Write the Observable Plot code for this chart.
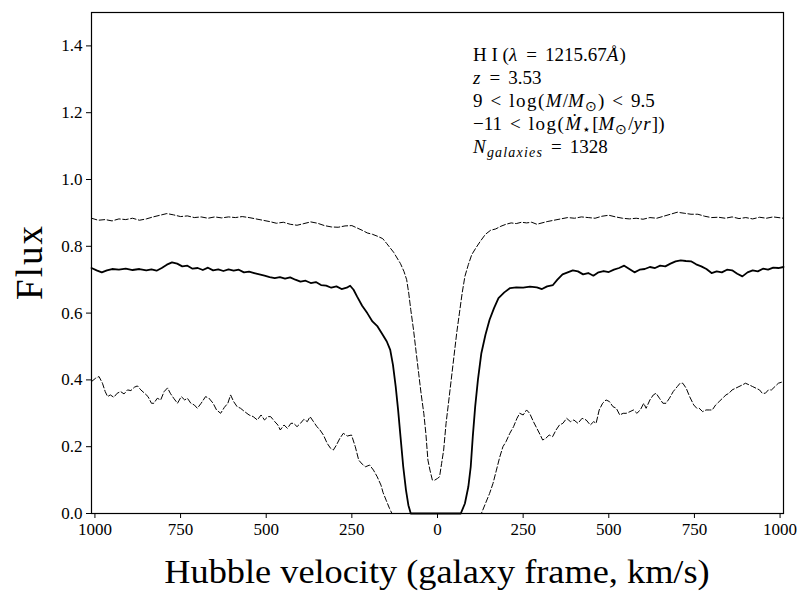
<!DOCTYPE html>
<html>
<head>
<meta charset="utf-8">
<script src="https://cdn.jsdelivr.net/npm/d3@7"></script>
<script src="https://cdn.jsdelivr.net/npm/@observablehq/plot@0.6"></script>
<style>
  body { margin: 0; background: #fff; }
  #wrap { position: relative; width: 805px; height: 591px; font-family: "Liberation Serif", serif; color: #000; }
  #chart svg text { font-family: "Liberation Serif", serif; }
  #ylab { position: absolute; left: 29px; top: 262px; transform: translate(-50%, -50%) rotate(-90deg); font-size: 37px; letter-spacing: 2px; white-space: nowrap; }
  #xlab { position: absolute; left: 437px; top: 572px; transform: translate(-50%, -50%) scaleX(1.1); font-size: 33px; white-space: nowrap; }
  #note { position: absolute; left: 473px; top: 43px; font-size: 19px; line-height: 23px; white-space: nowrap; }
  #note sub { font-size: 14px; vertical-align: -4px; line-height: 0; letter-spacing: 0.8px; }
  #note i { letter-spacing: 1.2px; }
  #note .op { margin: 0 0.42em; }
  #note .fn { letter-spacing: 1.5px; }
</style>
</head>
<body>
<div id="wrap">
  <div id="chart"></div>
  <div id="ylab">Flux</div>
  <div id="xlab">Hubble velocity (galaxy frame, km/s)</div>
  <div id="note">
    <div>H I (<i>λ</i><span class="op">=</span>1215.67<i>Å</i>)</div>
    <div><i>z</i><span class="op">=</span>3.53</div>
    <div>9<span class="op">&lt;</span><span class="fn">log(</span><i>M</i>/<i>M</i><sub>⊙</sub>)<span class="op">&lt;</span>9.5</div>
    <div>−11<span class="op">&lt;</span><span class="fn">log(</span><i>Ṁ</i><sub>⋆</sub>[<i>M</i><sub>⊙</sub>/<i>yr</i>])</div>
    <div><i>N</i><sub><i>galaxies</i></sub><span class="op">=</span>1328</div>
  </div>
</div>
<script>
const xTicks = [-1000, -750, -500, -250, 0, 250, 500, 750, 1000];
const yTicks = [0, 0.2, 0.4, 0.6, 0.8, 1.0, 1.2, 1.4];

const meanFlux = [
[-1010,0.735],[-995,0.728],[-980,0.722],[-965,0.728],[-950,0.732],[-930,0.730],[-910,0.733],[-890,0.729],[-870,0.732],[-850,0.728],[-835,0.731],[-820,0.727],[-805,0.735],[-790,0.745],[-775,0.752],[-760,0.748],[-745,0.740],[-730,0.742],[-715,0.733],[-700,0.735],[-685,0.729],[-670,0.736],[-655,0.728],[-640,0.731],[-625,0.726],[-610,0.731],[-595,0.727],[-580,0.730],[-565,0.722],[-550,0.724],[-535,0.720],[-520,0.716],[-505,0.712],[-490,0.708],[-475,0.705],[-460,0.708],[-445,0.703],[-430,0.707],[-415,0.700],[-400,0.694],[-385,0.697],[-370,0.690],[-355,0.693],[-340,0.684],[-325,0.682],[-310,0.676],[-295,0.680],[-280,0.672],[-265,0.676],[-255,0.682],[-245,0.670],[-235,0.650],[-220,0.622],[-205,0.600],[-190,0.575],[-175,0.560],[-160,0.535],[-148,0.515],[-138,0.490],[-130,0.445],[-122,0.38],[-115,0.31],[-108,0.23],[-100,0.14],[-92,0.07],[-85,0.025],[-78,0.0],[68,0.0],[80,0.03],[90,0.08],[97,0.14],[103,0.23],[110,0.32],[118,0.40],[128,0.48],[140,0.535],[152,0.58],[165,0.615],[178,0.645],[195,0.662],[212,0.675],[230,0.677],[250,0.676],[270,0.679],[290,0.677],[305,0.672],[320,0.680],[337,0.684],[350,0.700],[365,0.716],[380,0.722],[395,0.728],[410,0.725],[425,0.716],[440,0.720],[455,0.712],[470,0.722],[485,0.726],[500,0.723],[515,0.730],[530,0.735],[545,0.742],[560,0.732],[575,0.722],[590,0.730],[605,0.732],[620,0.738],[635,0.735],[650,0.742],[665,0.740],[680,0.748],[695,0.755],[710,0.758],[725,0.756],[740,0.755],[755,0.746],[770,0.740],[785,0.732],[800,0.720],[815,0.725],[830,0.722],[845,0.730],[860,0.728],[875,0.718],[890,0.710],[905,0.722],[920,0.728],[935,0.725],[950,0.733],[965,0.730],[980,0.736],[995,0.735],[1010,0.738]
];

const upperFlux = [
[-1010,0.884],[-990,0.878],[-970,0.880],[-950,0.876],[-930,0.882],[-910,0.880],[-890,0.884],[-870,0.878],[-850,0.882],[-830,0.888],[-810,0.893],[-790,0.898],[-770,0.894],[-750,0.889],[-730,0.891],[-710,0.886],[-690,0.888],[-670,0.884],[-650,0.888],[-630,0.885],[-610,0.888],[-590,0.886],[-570,0.889],[-550,0.886],[-530,0.882],[-510,0.878],[-490,0.874],[-470,0.869],[-450,0.872],[-430,0.866],[-410,0.863],[-390,0.868],[-370,0.873],[-350,0.869],[-330,0.862],[-310,0.858],[-290,0.857],[-270,0.861],[-250,0.862],[-235,0.855],[-220,0.848],[-205,0.840],[-190,0.836],[-175,0.830],[-160,0.823],[-148,0.808],[-138,0.795],[-128,0.782],[-118,0.765],[-108,0.748],[-98,0.725],[-90,0.700],[-84,0.66],[-78,0.61],[-70,0.55],[-62,0.48],[-55,0.42],[-48,0.36],[-40,0.30],[-34,0.24],[-28,0.16],[-22,0.13],[-15,0.10],[-8,0.10],[0,0.105],[6,0.11],[12,0.15],[18,0.19],[25,0.27],[32,0.33],[40,0.40],[48,0.47],[56,0.54],[64,0.60],[72,0.66],[80,0.71],[90,0.745],[100,0.775],[112,0.795],[125,0.815],[140,0.836],[155,0.848],[170,0.852],[185,0.860],[200,0.866],[215,0.870],[230,0.868],[245,0.872],[260,0.870],[275,0.872],[290,0.866],[305,0.870],[320,0.874],[340,0.878],[360,0.882],[380,0.886],[400,0.884],[420,0.888],[440,0.886],[460,0.884],[480,0.890],[500,0.893],[520,0.888],[540,0.884],[560,0.882],[580,0.884],[600,0.881],[620,0.886],[640,0.884],[660,0.890],[680,0.896],[700,0.902],[720,0.899],[740,0.896],[760,0.896],[780,0.890],[800,0.886],[820,0.887],[840,0.884],[860,0.888],[880,0.883],[900,0.886],[920,0.882],[940,0.887],[960,0.884],[980,0.888],[1010,0.884]
];

const lowerFlux = [
[-1010,0.395],[-998,0.405],[-988,0.41],[-978,0.39],[-970,0.365],[-963,0.35],[-955,0.355],[-945,0.348],[-935,0.36],[-925,0.365],[-915,0.358],[-905,0.37],[-895,0.368],[-885,0.378],[-876,0.382],[-866,0.37],[-855,0.36],[-845,0.35],[-835,0.33],[-828,0.33],[-818,0.345],[-808,0.34],[-798,0.365],[-788,0.376],[-780,0.36],[-770,0.345],[-759,0.33],[-748,0.35],[-738,0.34],[-730,0.345],[-720,0.33],[-710,0.325],[-701,0.315],[-690,0.33],[-677,0.35],[-667,0.345],[-655,0.33],[-645,0.31],[-633,0.30],[-622,0.318],[-612,0.33],[-604,0.355],[-595,0.335],[-585,0.32],[-575,0.315],[-563,0.305],[-550,0.295],[-538,0.29],[-526,0.28],[-515,0.295],[-505,0.28],[-495,0.29],[-487,0.29],[-475,0.275],[-466,0.265],[-459,0.25],[-448,0.265],[-438,0.255],[-428,0.27],[-420,0.27],[-410,0.26],[-400,0.27],[-390,0.282],[-380,0.275],[-372,0.29],[-362,0.275],[-352,0.26],[-343,0.25],[-333,0.235],[-322,0.21],[-312,0.195],[-304,0.19],[-295,0.205],[-285,0.225],[-275,0.24],[-263,0.232],[-251,0.235],[-240,0.20],[-230,0.16],[-220,0.148],[-210,0.14],[-198,0.145],[-187,0.13],[-176,0.11],[-165,0.085],[-159,0.063],[-150,0.04],[-140,0.015],[-133,0.0],[128,0.0],[140,0.03],[152,0.06],[162,0.09],[172,0.13],[182,0.17],[191,0.20],[200,0.215],[211,0.24],[222,0.26],[232,0.285],[240,0.30],[250,0.295],[260,0.31],[269,0.30],[280,0.275],[290,0.255],[300,0.235],[307,0.22],[316,0.225],[326,0.235],[336,0.23],[346,0.25],[356,0.265],[366,0.27],[377,0.285],[388,0.275],[398,0.28],[410,0.27],[422,0.285],[434,0.28],[446,0.265],[456,0.275],[463,0.27],[472,0.31],[482,0.33],[492,0.34],[502,0.335],[512,0.32],[522,0.315],[532,0.295],[542,0.30],[551,0.30],[562,0.305],[572,0.31],[582,0.30],[592,0.31],[602,0.33],[609,0.315],[620,0.34],[630,0.355],[638,0.36],[648,0.345],[658,0.33],[667,0.33],[677,0.345],[688,0.365],[700,0.38],[708,0.39],[716,0.39],[726,0.375],[736,0.35],[748,0.325],[757,0.315],[764,0.315],[774,0.305],[784,0.31],[794,0.31],[802,0.31],[812,0.325],[822,0.335],[832,0.345],[842,0.355],[851,0.36],[860,0.37],[870,0.375],[880,0.38],[890,0.385],[899,0.39],[910,0.385],[920,0.38],[930,0.375],[940,0.37],[948,0.36],[957,0.36],[966,0.37],[975,0.37],[985,0.38],[995,0.39],[1010,0.395]
];

const X = d => d[0], Y = d => d[1];
const serif = "Liberation Serif, serif";

const chart = Plot.plot({
  width: 805,
  height: 591,
  marginLeft: 91,
  marginRight: 22,
  marginTop: 12,
  marginBottom: 78,
  style: { fontFamily: serif, fontSize: "17px", color: "#000", background: "#fff" },
  x: { domain: [-1010, 1010] },
  y: { domain: [0, 1.5] },
  marks: [
    Plot.line(upperFlux, { x: X, y: Y, stroke: "black", strokeWidth: 1, strokeDasharray: "5.5,2.5" }),
    Plot.line(lowerFlux, { x: X, y: Y, stroke: "black", strokeWidth: 1, strokeDasharray: "5.5,2.5" }),
    Plot.line(meanFlux, { x: X, y: Y, stroke: "black", strokeWidth: 1.8 }),
    Plot.frame({ stroke: "black", strokeWidth: 1.2 }),
    Plot.axisX(xTicks, { tickSize: 5, tickPadding: 4, tickFormat: d => String(Math.abs(d)), label: null, fontSize: 17, fontFamily: serif, strokeWidth: 1 }),
    Plot.axisY(yTicks, { tickSize: 5, tickPadding: 4, tickFormat: d3.format(".1f"), label: null, fontSize: 17, fontFamily: serif, strokeWidth: 1 })
  ]
});
document.getElementById("chart").appendChild(chart);
</script>
</body>
</html>
